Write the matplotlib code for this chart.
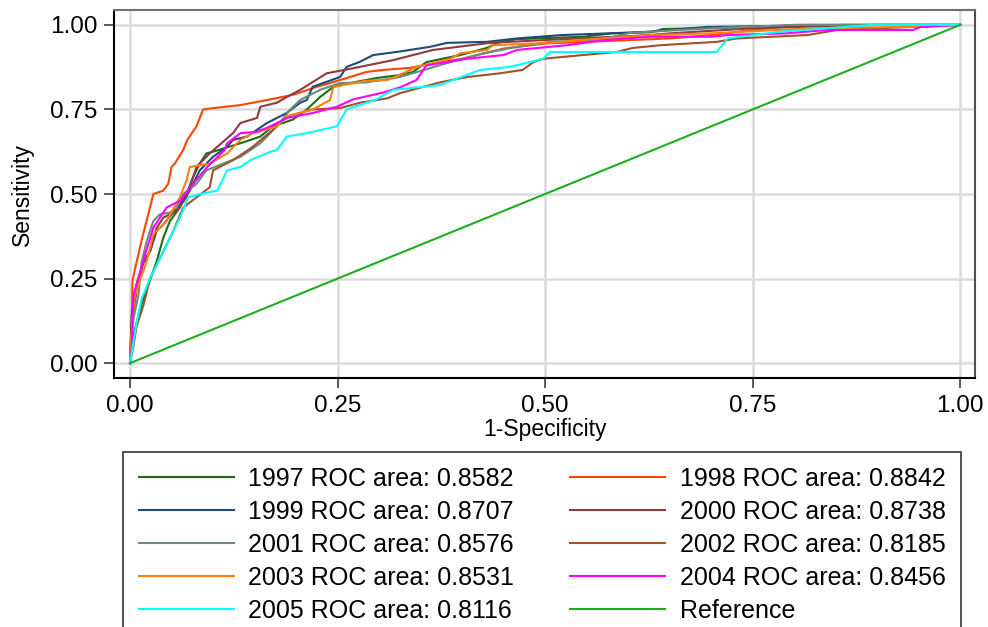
import matplotlib
matplotlib.use('Agg')
import matplotlib.pyplot as plt

plt.rcParams['font.family'] = ['Liberation Sans', 'DejaVu Sans']

# ROC points (1-specificity, sensitivity)
fpr_1997 = [0, .004, .01, .016, .024, .032, .04, .048, .06, .068, .076, .084, .092, .10, .133, .157, .172, .196, .213, .229, .245, .269, .297, .325, .341, .357, .398, .43, .442, .466, .546, .58, .627, .642, .77, .80, 1]
tpr_1997 = [0, .08, .14, .19, .245, .30, .37, .42, .46, .50, .55, .59, .62, .625, .65, .67, .70, .72, .75, .787, .817, .83, .843, .852, .861, .89, .911, .932, .947, .958, .965, .975, .978, .988, .994, 1.0, 1]

fpr_1998 = [0, .002, .003, .008, .014, .023, .028, .04, .046, .05, .054, .064, .069, .08, .088, .10, .133, .165, .196, .225, .253, .285, .305, .337, .40, .45, .50, .55, .60, .65, .70, .75, .81, 1]
tpr_1998 = [0, .12, .245, .30, .364, .45, .50, .51, .53, .58, .59, .63, .66, .70, .75, .754, .763, .778, .793, .817, .837, .861, .867, .873, .90, .93, .945, .95, .955, .96, .97, .985, 1.0, 1]

fpr_1999 = [0, .002, .008, .016, .024, .032, .04, .06, .072, .084, .10, .117, .124, .141, .165, .189, .205, .213, .22, .253, .261, .277, .293, .321, .361, .382, .43, .466, .52, .587, .627, .695, .86, 1]
tpr_1999 = [0, .14, .235, .295, .33, .39, .41, .47, .51, .57, .61, .64, .66, .67, .71, .74, .77, .778, .817, .846, .876, .891, .911, .92, .935, .947, .95, .96, .97, .976, .98, .994, 1.0, 1]

fpr_2000 = [0, .002, .008, .016, .024, .032, .04, .056, .068, .08, .092, .096, .124, .133, .153, .157, .177, .189, .205, .237, .269, .317, .365, .434, .506, .627, .65, .75, .895, 1]
tpr_2000 = [0, .12, .216, .30, .33, .40, .43, .45, .49, .58, .61, .62, .68, .71, .725, .758, .77, .787, .808, .857, .872, .896, .926, .947, .956, .97, .975, .99, 1.0, 1]

fpr_2001 = [0, .002, .004, .01, .014, .02, .028, .036, .048, .056, .064, .08, .092, .112, .133, .157, .177, .193, .205, .229, .253, .285, .325, .346, .386, .426, .466, .506, .566, .602, .627, .699, .80, 1]
tpr_2001 = [0, .08, .13, .20, .30, .36, .42, .44, .445, .46, .50, .53, .57, .59, .61, .65, .70, .75, .778, .808, .828, .83, .846, .861, .89, .916, .935, .95, .956, .976, .98, .99, 1.0, 1]

fpr_2002 = [0, .004, .008, .016, .024, .036, .052, .064, .08, .096, .10, .108, .124, .148, .172, .19, .22, .253, .277, .31, .325, .373, .406, .446, .473, .486, .498, .546, .586, .606, .639, .707, .731, .816, .852, .95, 1]
tpr_2002 = [0, .05, .11, .17, .25, .31, .39, .46, .49, .52, .57, .58, .60, .64, .69, .73, .75, .754, .77, .783, .798, .83, .846, .857, .867, .89, .90, .911, .92, .932, .94, .95, .96, .97, .985, .995, 1]

fpr_2003 = [0, .003, .006, .012, .02, .028, .044, .06, .068, .072, .096, .117, .133, .148, .177, .189, .22, .241, .245, .285, .31, .329, .346, .386, .398, .43, .437, .506, .546, .627, .70, .82, .96, 1]
tpr_2003 = [0, .14, .20, .245, .30, .38, .42, .49, .54, .58, .59, .62, .66, .68, .70, .73, .75, .778, .817, .835, .837, .857, .876, .90, .916, .926, .94, .947, .956, .97, .975, .99, .995, 1]

fpr_2004 = [0, .002, .004, .018, .028, .044, .06, .076, .093, .114, .117, .133, .153, .169, .189, .221, .249, .269, .305, .325, .345, .357, .406, .45, .466, .526, .575, .627, .70, .72, .79, .84, .943, .953, 1]
tpr_2004 = [0, .04, .20, .32, .40, .46, .48, .53, .58, .63, .65, .68, .684, .70, .725, .74, .758, .78, .80, .815, .837, .88, .90, .911, .926, .94, .956, .965, .965, .97, .975, .985, .985, .994, 1]

fpr_2005 = [0, .004, .008, .014, .024, .034, .048, .06, .07, .084, .105, .117, .133, .145, .169, .177, .189, .213, .249, .261, .297, .317, .373, .422, .458, .498, .506, .707, .72, .783, .895, 1]
tpr_2005 = [0, .06, .12, .19, .25, .30, .37, .43, .49, .50, .51, .57, .58, .60, .625, .63, .67, .68, .70, .75, .78, .808, .822, .867, .876, .90, .92, .92, .96, .98, 1.0, 1]

ref_x = [0, 1]
ref_y = [0, 1]

years = ['1997', '1998', '1999', '2000', '2001', '2002', '2003', '2004', '2005']
areas = ['0.8582', '0.8842', '0.8707', '0.8738', '0.8576', '0.8185', '0.8531', '0.8456', '0.8116']
curves = [(fpr_1997, tpr_1997), (fpr_1998, tpr_1998), (fpr_1999, tpr_1999),
          (fpr_2000, tpr_2000), (fpr_2001, tpr_2001), (fpr_2002, tpr_2002),
          (fpr_2003, tpr_2003), (fpr_2004, tpr_2004), (fpr_2005, tpr_2005)]
colors = ['#1a6e1a', '#ff4500', '#1f4a7a', '#8e3a3f', '#6a8c7c', '#a0522d',
          '#ff7f0e', '#ff00ff', '#00ffff']

fig = plt.figure(figsize=(9.88, 6.27), dpi=100)
ax = fig.add_axes([0.1154, 0.3971, 0.8715, 0.5869])

lines = {}
for yr, ar, (fx, ty), c in zip(years, areas, curves, colors):
    ln, = ax.plot(fx, ty, color=c, lw=1.5, label=yr + ' ROC area: ' + ar)
    lines[yr] = ln
ref, = ax.plot(ref_x, ref_y, color='#1cb01c', lw=1.5, label='Reference')

ax.set_xlim(-0.0193, 1.018)
ax.set_ylim(-0.044, 1.044)
ticks = [0, 0.25, 0.5, 0.75, 1.0]
ax.set_xticks(ticks)
ax.set_yticks(ticks)
ax.set_xticklabels(['0.00', '0.25', '0.50', '0.75', '1.00'])
ax.set_yticklabels(['0.00', '0.25', '0.50', '0.75', '1.00'])
ax.grid(True, color='#dcdcdc', lw=1.8)
ax.set_axisbelow(True)
ax.tick_params(direction='out', length=7, width=1.2, color='#404040',
               labelsize=17.5, pad=5)

ax.spines['left'].set_color('black')
ax.spines['bottom'].set_color('black')
ax.spines['top'].set_color('#707070')
ax.spines['right'].set_color('#505050')
for s in ax.spines.values():
    s.set_linewidth(1.5)

ax.set_xlabel('1-Specificity', fontsize=16.5)
ax.set_ylabel('Sensitivity', fontsize=16.5)
ax.xaxis.set_label_coords(0.5, -0.11)
ax.yaxis.set_label_coords(-0.093, 0.5)

# column-wise order so rows read 1997/1998, 1999/2000 ...
order = ['1997', '1999', '2001', '2003', '2005', '1998', '2000', '2002', '2004']
handles = [lines[k] for k in order] + [ref]
leg = fig.legend(handles=handles, labels=[h.get_label() for h in handles],
                 loc='upper left', ncol=2, mode='expand',
                 bbox_to_anchor=(123 / 988, 1 - 458 / 627, (961 - 123) / 988, 0.01),
                 fontsize=18, frameon=True, fancybox=False, edgecolor='black',
                 handlelength=3.8, handletextpad=0.6, labelspacing=0.36,
                 borderpad=0.62, borderaxespad=0, columnspacing=1.0)
leg.get_frame().set_linewidth(1.2)

fig.savefig('out.png', dpi=100)
